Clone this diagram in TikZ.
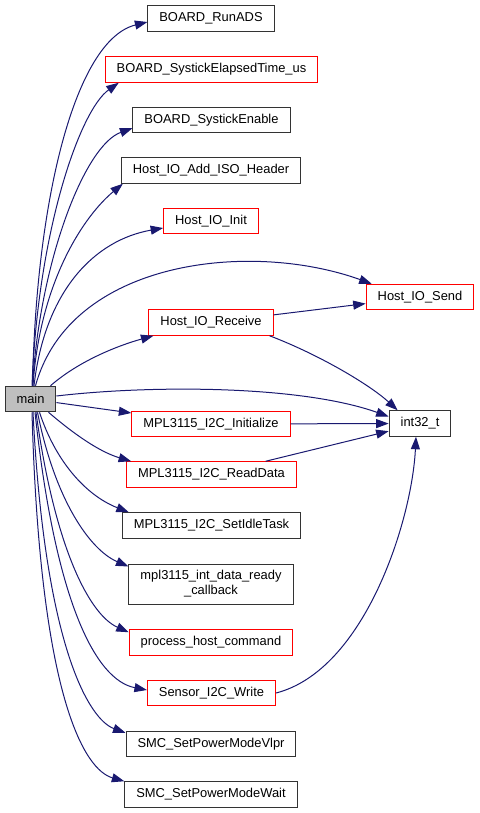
\documentclass[tikz,border=0pt]{standalone}
\usepackage{fontspec}
\setmainfont{Liberation Sans}
\usetikzlibrary{arrows.meta}
\definecolor{edgeblue}{HTML}{191970}
\definecolor{mainfill}{HTML}{BFBFBF}

\begin{document}
\begin{tikzpicture}[x=1pt,y=-1pt,
  fn/.style={draw=black!80,line width=1pt,inner xsep=11.5pt,inner ysep=0pt,minimum height=25.5pt,font=\fontsize{12.9}{15}\selectfont},
  fnred/.style={fn,draw=red},
  call/.style={draw=edgeblue,line width=1pt,-{Triangle[length=12.5pt,width=9pt,fill=edgeblue]}}]
\useasboundingbox (0,0) rectangle (479,813);
\node[fn,fill=mainfill] (main) at (30.5,399) {main};
\node[fn] (runads) at (211,18.5) {BOARD\_RunADS};
\node[fnred] (elapsed) at (211.5,69.5) {BOARD\_SystickElapsedTime\_us};
\node[fn] (sysen) at (211.5,120) {BOARD\_SystickEnable};
\node[fn] (isohdr) at (211,170.5) {Host\_IO\_Add\_ISO\_Header};
\node[fnred] (ioinit) at (211,221) {Host\_IO\_Init};
\node[fnred] (iosend) at (420,297) {Host\_IO\_Send};
\node[fnred] (iorecv) at (211,322.5) {Host\_IO\_Receive};
\node[fn] (int32) at (420,423.5) {int32\_t};
\node[fnred] (i2cinit) at (211,424) {MPL3115\_I2C\_Initialize};
\node[fnred] (readdata) at (211.5,474.5) {MPL3115\_I2C\_ReadData};
\node[fn] (idletask) at (211.5,525.5) {MPL3115\_I2C\_SetIdleTask};
\node[fn,minimum height=40pt,align=center] (callback) at (211,584) {mpl3115\_int\_data\_ready\\\_callback};
\node[fnred] (hostcmd) at (211,642.5) {process\_host\_command};
\node[fnred] (i2cwrite) at (211.5,693) {Sensor\_I2C\_Write};
\node[fn] (vlpr) at (211,744) {SMC\_SetPowerModeVlpr};
\node[fn] (wait) at (211,794.5) {SMC\_SetPowerModeWait};
\draw[call] ([xshift=2pt]main.north) .. controls (36,200) and (75,40) .. ([yshift=-3.5pt]runads.west);
\draw[call] ([xshift=1.5pt]main.north) .. controls (38,230) and (80,110) .. ([xshift=14pt]elapsed.south west);
\draw[call] ([xshift=2pt]main.north) .. controls (40,260) and (85,145) .. ([yshift=5pt]sysen.south west);
\draw[call] ([xshift=2.5pt]main.north) .. controls (40,280) and (85,215) .. ([xshift=2pt]isohdr.south west);
\draw[call] ([xshift=3.5pt]main.north) .. controls (45,290) and (95,240) .. ([yshift=-7pt]ioinit.west);
\draw[call] ([xshift=5pt]main.north) .. controls (70,260) and (250,240) .. ([xshift=6pt]iosend.north west);
\draw[call] ([xshift=-6pt]main.north east) .. controls (80,360) and (120,345) .. ([xshift=5pt]iorecv.south west);
\draw[call] (iorecv) -- (iosend);
\draw[call] ([xshift=-4pt]iorecv.south east) .. controls (320,355) and (370,385) .. ([xshift=9pt]int32.north west);
\draw[call] ([yshift=3pt]main.east) .. controls (150,385) and (300,385) .. ([yshift=7pt]int32.west);
\draw[call] (main) -- (i2cinit);
\draw[call] (i2cinit) -- (int32);
\draw[call] (readdata) -- (int32);
\draw[call] ([xshift=-8pt]main.south east) .. controls (75,435) and (100,452) .. ([xshift=5pt]readdata.north west);
\draw[call] ([xshift=9pt]main.south) .. controls (55,460) and (85,495) .. ([xshift=7pt]idletask.north west);
\draw[call] ([xshift=7pt]main.south) .. controls (55,500) and (90,550) .. ([yshift=-3pt]callback.north west);
\draw[call] ([xshift=5.5pt]main.south) .. controls (55,550) and (90,615) .. ([yshift=-3pt]hostcmd.north west);
\draw[call] ([xshift=4.5pt]main.south) .. controls (55,600) and (95,680) .. ([yshift=3pt]i2cwrite.west);
\draw[call] ([xshift=2.5pt]main.south) .. controls (45,650) and (90,720) .. ([yshift=-2pt]vlpr.north west);
\draw[call] ([xshift=1.5pt]main.south) .. controls (40,700) and (85,770) .. (wait.north west);
\draw[call] (i2cwrite.east) .. controls (365,670) and (412,520) .. ([xshift=-4pt]int32.south);
\end{tikzpicture}
\end{document}
